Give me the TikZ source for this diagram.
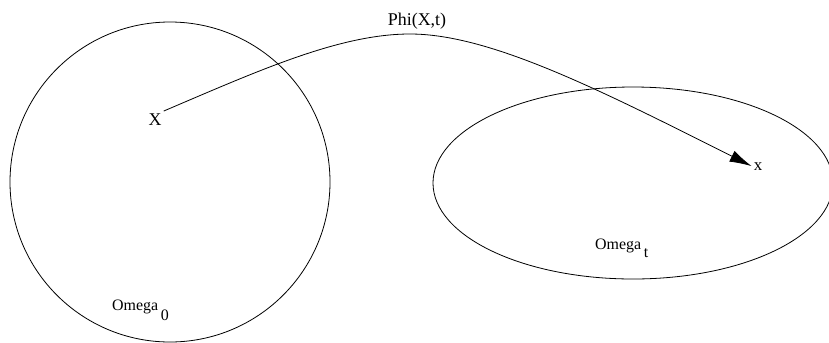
\documentclass[tikz,border=0pt]{standalone}
\usepackage{fontspec}
\setmainfont{Liberation Serif}
\usepackage{tikz}
\usetikzlibrary{arrows.meta,positioning,calc}
\tikzset{arrow/.style={draw, -{Latex[length=22bp,width=12bp]}}}

\begin{document}
\begin{tikzpicture}[
                x=1bp, y=-1bp,
                every node/.style={inner sep=2bp, font=\fontsize{17}{19}\selectfont},
                region/.style={draw, line width=0.8bp}
            ]
                \useasboundingbox (0,0) rectangle (829,342);

                % Define Regions
                \draw[region] (170,182) circle [radius=160bp];
                \draw[region] (633,183) ellipse [x radius=200bp, y radius=96bp];

                % Define Nodes
                \node (X) [anchor=base, font=\fontsize{18}{20}\selectfont] at (155,125) {X};
                \node (x) [anchor=base] at (758,170) {x};
                \node (phi) [anchor=base, font=\fontsize{18}{20}\selectfont] at (417,25) {Phi(X,t)};
                \node (omega0) [anchor=base west, font=\fontsize{16}{18}\selectfont] at (110,310.5) {Omega\,\raisebox{-0.6em}{0}};
                \node (omegat) [anchor=base west, font=\fontsize{16}{18}\selectfont] at (593,249) {Omega\,\raisebox{-0.55em}{t}};

                % Draw Arrows
                \draw[arrow, line width=0.8bp] (X.north east) .. controls (260,70) and (340,34) .. (410,34)
                    .. controls (490,34) and (600,90) .. (x.west);

            \end{tikzpicture}
\end{document}
